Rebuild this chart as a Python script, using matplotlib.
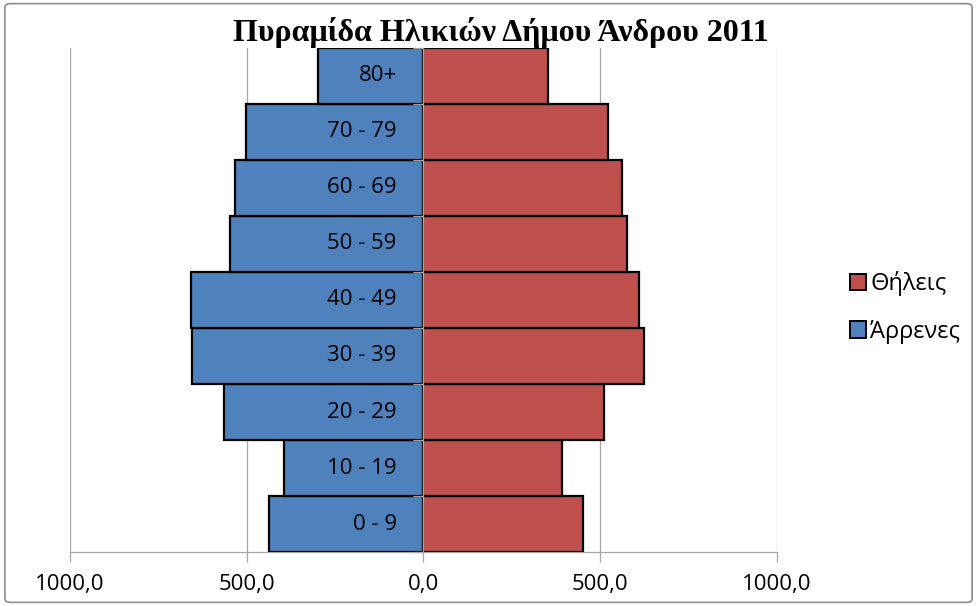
import matplotlib
matplotlib.use('Agg')
import matplotlib.pyplot as plt
import matplotlib.patches as mpatches
from matplotlib.patches import FancyBboxPatch

# data
age_groups = ['0 - 9', '10 - 19', '20 - 29', '30 - 39', '40 - 49',
              '50 - 59', '60 - 69', '70 - 79', '80+']
males   = [437, 393, 565, 654, 657, 548, 532, 503, 299]
females = [452, 393, 510, 624, 610, 576, 562, 523, 353]
x_ticks = [-1000, -500, 0, 500, 1000]
x_tick_labels = ['1000,0', '500,0', '0,0', '500,0', '1000,0']

blue = '#4F81BD'
red = '#C0504D'
grid_gray = '#A6A6A6'

fig = plt.figure(figsize=(9.77, 6.06), dpi=100)

# chart border
border = FancyBboxPatch((0.005, 0.006), 0.99, 0.988,
                        boxstyle='round,pad=0,rounding_size=0.006',
                        transform=fig.transFigure, fill=False,
                        edgecolor='#8C8C8C', linewidth=1.2)
fig.patches.append(border)

ax = fig.add_axes([0.0716, 0.089, 0.7234, 0.832])

ypos = list(range(len(age_groups)))
ax.barh(ypos, [-m for m in males], height=1.0, color=blue,
        edgecolor='black', linewidth=1.6, zorder=3)
ax.barh(ypos, females, height=1.0, color=red,
        edgecolor='black', linewidth=1.6, zorder=3)

# category labels inside the male bars
for y, lab in zip(ypos, age_groups):
    ax.text(-75, y, lab, ha='right', va='center', fontsize=16,
            family='Open Sans', color='black', zorder=4)

ax.set_xlim(-1000, 1000)
ax.set_ylim(-0.5, len(age_groups) - 0.5)
ax.set_xticks(x_ticks)
ax.set_xticklabels(x_tick_labels, fontsize=16, family='Open Sans')
ax.tick_params(axis='x', length=7, width=0.9, color=grid_gray, pad=9)
ax.xaxis.grid(True, color=grid_gray, linewidth=0.9, zorder=0)

# vertical axis at zero with small ticks between categories
ax.spines['left'].set_position(('data', 0))
ax.spines['left'].set_color(grid_gray)
ax.spines['left'].set_linewidth(1.0)
ax.spines['left'].set_zorder(5)
ax.set_yticks([y - 0.5 for y in ypos] + [len(ypos) - 0.5])
ax.set_yticklabels([])
ax.tick_params(axis='y', length=7, width=0.9, color=grid_gray)
ax.yaxis.set_zorder(5)

for s in ['top', 'right']:
    ax.spines[s].set_visible(False)
ax.spines['bottom'].set_color(grid_gray)
ax.spines['bottom'].set_linewidth(0.9)

fig.text(0.513, 0.946, 'Πυραμίδα Ηλικιών Δήμου Άνδρου 2011',
         ha='center', va='center', fontsize=23, fontweight='bold',
         family='Liberation Serif')

handles = [mpatches.Patch(facecolor=red, edgecolor='black', linewidth=1.4, label='Θήλεις'),
           mpatches.Patch(facecolor=blue, edgecolor='black', linewidth=1.4, label='Άρρενες')]
fig.legend(handles=handles, loc='center left', bbox_to_anchor=(0.860, 0.4926),
           frameon=False, prop={'family': 'Open Sans', 'size': 17},
           handlelength=0.68, handleheight=0.68, handletextpad=0.2,
           labelspacing=1.0, borderaxespad=0)

plt.savefig('out.png', dpi=100)
